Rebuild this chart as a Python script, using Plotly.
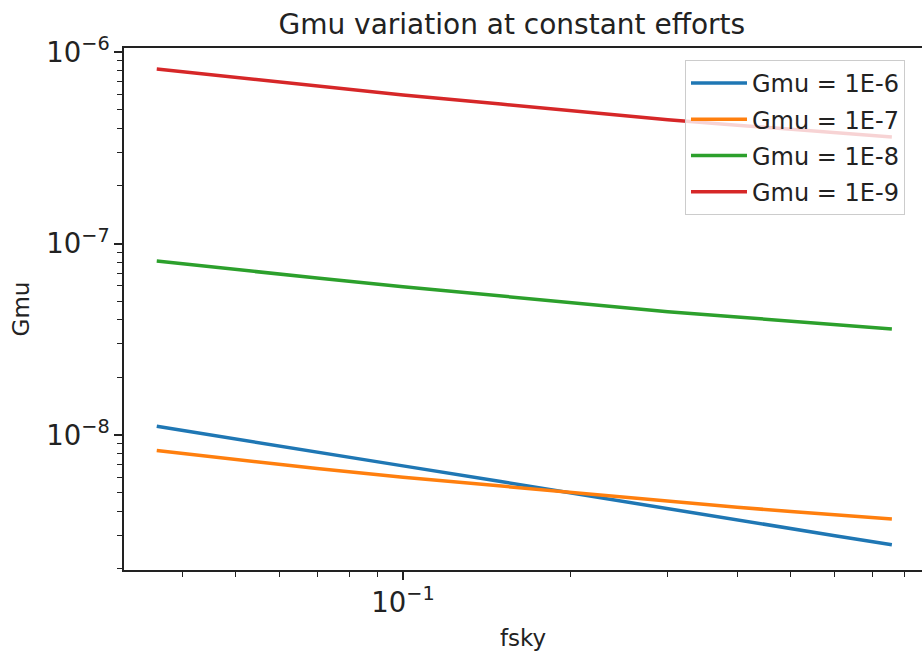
import plotly.graph_objects as go

fsky = [0.036, 0.05, 0.07, 0.1, 0.15, 0.2, 0.3, 0.4, 0.5, 0.6, 0.76]

gmu_1e6 = [1.11e-8, 9.55e-9, 8.16e-9, 6.90e-9, 5.71e-9, 4.98e-9, 4.12e-9, 3.60e-9, 3.25e-9, 2.98e-9, 2.67e-9]
gmu_1e7 = [8.30e-9, 7.44e-9, 6.68e-9, 6.02e-9, 5.41e-9, 4.98e-9, 4.48e-9, 4.19e-9, 3.99e-9, 3.83e-9, 3.64e-9]
gmu_1e8 = [8.10e-8, 7.30e-8, 6.60e-8, 5.95e-8, 5.33e-8, 4.90e-8, 4.40e-8, 4.13e-8, 3.93e-8, 3.77e-8, 3.58e-8]
gmu_1e9 = [8.15e-7, 7.36e-7, 6.61e-7, 5.96e-7, 5.35e-7, 4.93e-7, 4.43e-7, 4.15e-7, 3.95e-7, 3.79e-7, 3.60e-7]

series = [
    ("Gmu = 1E-6", gmu_1e6, "#1f77b4"),
    ("Gmu = 1E-7", gmu_1e7, "#ff7f0e"),
    ("Gmu = 1E-8", gmu_1e8, "#2ca02c"),
    ("Gmu = 1E-9", gmu_1e9, "#d62728"),
]

FONT = "DejaVu Sans"
INK = "#222222"

fig = go.Figure()
for name, vals, color in series:
    fig.add_trace(go.Scatter(x=fsky, y=vals, mode="lines", name=name, legendgroup=name,
                             line=dict(color=color, width=3.5)))

axis_common = dict(
    type="log", showgrid=False, zeroline=False,
    showline=True, linecolor=INK, linewidth=1.8,
    ticks="outside", ticklen=8, tickwidth=1.5, tickcolor=INK,
    dtick=1, exponentformat="power",
    tickfont=dict(family=FONT, size=22, color=INK),
    minor=dict(ticks="outside", ticklen=5, tickwidth=1.2, tickcolor=INK,
               dtick="D1", showgrid=False),
)

fig.update_layout(
    width=922, height=651,
    margin=dict(l=124, r=0, t=48, b=81),
    paper_bgcolor="white", plot_bgcolor="white",
    font=dict(family=FONT, color=INK),
    title=dict(text="Gmu variation at constant efforts",
               font=dict(family=FONT, size=28, color=INK),
               x=0.486, xref="paper", xanchor="center",
               y=1 - 24 / 651, yref="container", yanchor="middle"),
    xaxis=dict(axis_common, range=[-1.5027, -0.0649], mirror=True,
               title=dict(text="fsky", font=dict(family=FONT, size=23, color=INK), standoff=17)),
    yaxis=dict(axis_common, range=[-8.705, -5.979], mirror=False,
               title=dict(text="Gmu", font=dict(family=FONT, size=23, color=INK), standoff=10)),
    legend=dict(x=0.703, y=0.977, xanchor="left", yanchor="top",
                bgcolor="rgba(255,255,255,0.8)", bordercolor="#cccccc", borderwidth=1,
                itemwidth=56, tracegroupgap=2,
                font=dict(family=FONT, size=24, color=INK)),
    showlegend=True,
)

fig.write_html("out.html", config={"displayModeBar": False},
               post_script="document.body.style.margin='0';document.body.style.overflow='hidden';")
